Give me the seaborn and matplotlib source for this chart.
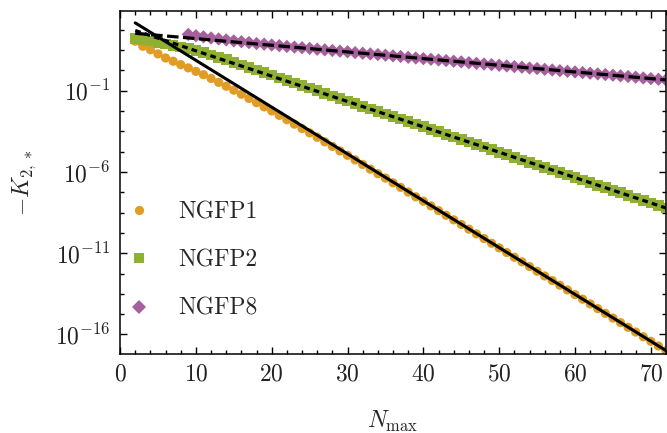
import numpy as np
import pandas as pd
import matplotlib
matplotlib.use('Agg')
import matplotlib.pyplot as plt
import matplotlib.ticker as mticker
import seaborn as sns

# log10(-K_{2,*})
n1 = list(range(2, 73))
ngfp1_log = [2.04, 1.73, 1.52, 1.26, 1.01, 0.81, 0.60, 0.40, 0.19, -0.02,
             -0.25, -0.49, -0.73, -0.97, -1.22, -1.48, -1.74, -2.00, -2.25, -2.52,
             -2.79, -3.06, -3.33, -3.60, -3.87, -4.15, -4.43, -4.71, -4.98, -5.26,
             -5.54, -5.83, -6.11, -6.38, -6.67, -6.95, -7.24, -7.53, -7.80, -8.09,
             -8.38, -8.67, -8.95, -9.23, -9.52, -9.81, -10.10, -10.39, -10.67, -10.96,
             -11.25, -11.53, -11.82, -12.11, -12.40, -12.68, -12.97, -13.26, -13.55, -13.83,
             -14.12, -14.41, -14.70, -14.99, -15.27, -15.56, -15.85, -16.14, -16.42, -16.71,
             -17.00]

n2 = list(range(2, 73))
ngfp2_log = [2.20, 2.13, 2.05, 1.97, 1.88, 1.79, 1.69, 1.58, 1.46, 1.33,
             1.19, 1.05, 0.90, 0.74, 0.58, 0.42, 0.26, 0.10, -0.05, -0.21,
             -0.37, -0.53, -0.69, -0.84, -1.00, -1.16, -1.32, -1.48, -1.64, -1.80,
             -1.96, -2.12, -2.28, -2.44, -2.59, -2.75, -2.91, -3.06, -3.22, -3.38,
             -3.53, -3.69, -3.85, -4.00, -4.16, -4.32, -4.47, -4.63, -4.79, -4.94,
             -5.10, -5.26, -5.41, -5.57, -5.72, -5.88, -6.04, -6.19, -6.35, -6.50,
             -6.66, -6.82, -6.97, -7.13, -7.28, -7.44, -7.60, -7.75, -7.91, -8.06,
             -8.22]

n8 = list(range(9, 73))
ngfp8_log = [2.46, 2.38, 2.31, 2.24, 2.18, 2.12, 2.06, 2.01, 1.96, 1.90,
             1.86, 1.81, 1.77, 1.72, 1.68, 1.64, 1.60, 1.55, 1.51, 1.47,
             1.43, 1.39, 1.34, 1.30, 1.26, 1.22, 1.18, 1.14, 1.10, 1.05,
             1.01, 0.97, 0.93, 0.89, 0.85, 0.81, 0.77, 0.72, 0.68, 0.64,
             0.60, 0.56, 0.52, 0.48, 0.44, 0.39, 0.36, 0.31, 0.27, 0.23,
             0.19, 0.15, 0.11, 0.07, 0.03, -0.01, -0.05, -0.09, -0.13, -0.17,
             -0.22, -0.26, -0.30, -0.34]

# asymptotic fits (straight lines on the log axis), endpoints
fit_n = [2, 72]
fit1_log = [3.17, -16.99]
fit2_log = [2.70, -8.22]
fit8_log = [2.53, -0.34]

labels = ['NGFP1', 'NGFP2', 'NGFP8']
colors = ['#E09C24', '#8FB032', '#A5609D']

df = pd.concat([
    pd.DataFrame({'N': n1, 'K': 10.0 ** np.array(ngfp1_log), 'series': labels[0]}),
    pd.DataFrame({'N': n2, 'K': 10.0 ** np.array(ngfp2_log), 'series': labels[1]}),
    pd.DataFrame({'N': n8, 'K': 10.0 ** np.array(ngfp8_log), 'series': labels[2]}),
])

sns.set_theme(style='ticks')
plt.rcParams['font.family'] = ['cmr10', 'DejaVu Serif']
plt.rcParams['mathtext.fontset'] = 'cm'
plt.rcParams['axes.formatter.use_mathtext'] = True
plt.rcParams['axes.unicode_minus'] = False

fig = plt.figure(figsize=(6.67, 4.33), dpi=100)
ax = fig.add_axes([0.18, 0.1825, 0.8185, 0.7921])

sns.scatterplot(data=df, x='N', y='K', hue='series', style='series',
                palette=dict(zip(labels, colors)),
                markers={'NGFP1': 'o', 'NGFP2': 's', 'NGFP8': 'D'},
                size='series', sizes={'NGFP1': 44, 'NGFP2': 58, 'NGFP8': 46},
                linewidth=0, ax=ax, zorder=2)

ax.plot(fit_n, 10.0 ** np.array(fit1_log), color='black', lw=2.2, zorder=3)
ax.plot(fit_n, 10.0 ** np.array(fit2_log), color='black', lw=2.3,
        dashes=(1.8, 1.3), zorder=3)
ax.plot(fit_n, 10.0 ** np.array(fit8_log), color='black', lw=2.3,
        dashes=(3.6, 1.4), zorder=3)

ax.set_yscale('log')
ax.set_xlim(0, 72)
ax.set_ylim(10 ** -17.2, 10 ** 3.9)

ax.xaxis.set_major_locator(mticker.MultipleLocator(10))
ax.xaxis.set_minor_locator(mticker.MultipleLocator(2))
ax.yaxis.set_major_locator(mticker.FixedLocator([1e-16, 1e-11, 1e-6, 1e-1]))
ax.yaxis.set_minor_locator(mticker.FixedLocator(
    [10 ** (-1 + 1.25 * k) for k in range(-13, 4) if k % 4 != 0]))
ax.yaxis.set_minor_formatter(mticker.NullFormatter())

for s in ax.spines.values():
    s.set_linewidth(1.1)
    s.set_color('black')
ax.tick_params(which='both', direction='in', top=True, right=True,
               width=1.0, color='black', labelsize=17, labelcolor='#222222')
ax.tick_params(which='major', length=5, pad=7)
ax.tick_params(which='minor', length=3)

ax.set_xlabel(r'$N_{\mathrm{max}}$', fontsize=17)
ax.set_ylabel(r'$-K_{2,*}$', fontsize=17)
ax.xaxis.set_label_coords(0.5, -0.16)
ax.yaxis.set_label_coords(-0.15, 0.5)

handles, labs = ax.get_legend_handles_labels()
ax.legend(handles, labs, loc='center left', bbox_to_anchor=(0.013, 0.272),
          frameon=False, fontsize=17, borderpad=0, borderaxespad=0,
          handlelength=1.0, handletextpad=1.15, labelspacing=1.1)

fig.savefig('out.png', dpi=100)
